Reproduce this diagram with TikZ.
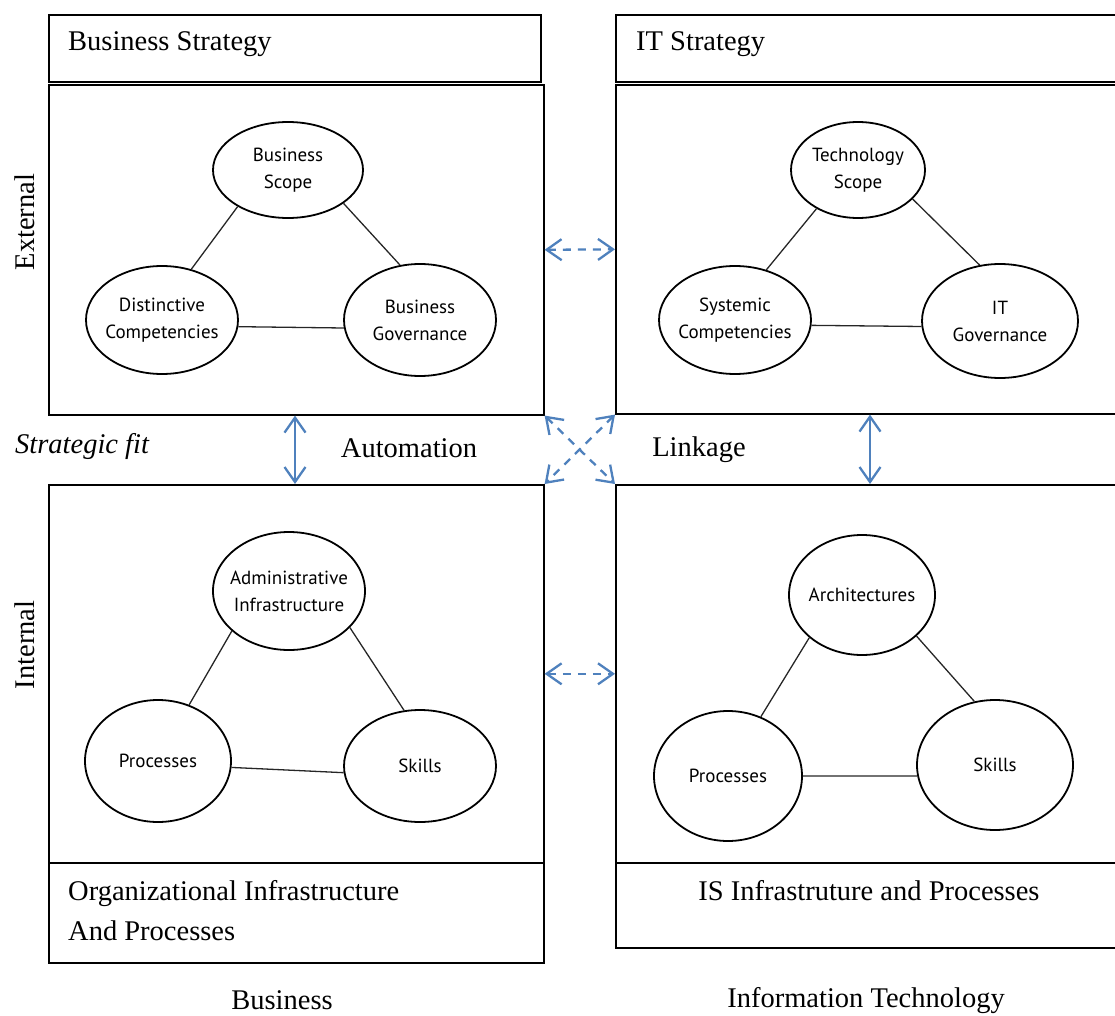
\documentclass[tikz,border=0pt]{standalone}
\usepackage{fontspec}
\setmainfont{Liberation Serif}
\newfontfamily\ovalfont{PT Sans}
\usepackage{xcolor}
\usetikzlibrary{shapes.geometric,arrows.meta,positioning}
\definecolor{linkblue}{RGB}{79,129,189}
\tikzset{
    panel/.style={draw, line width=1.6pt, anchor=north west, inner sep=0pt},
    oval/.style={draw, ellipse, line width=1.8pt, inner sep=-14pt, align=center, font=\ovalfont\fontsize{19}{27}\selectfont},
    tie/.style={line width=1.3pt, draw=black!85},
    boxtext/.style={inner sep=0pt, font=\fontsize{28.5}{40}\selectfont},
    fitarrow/.style={linkblue, line width=2.3pt, {Straight Barb[length=15pt,width=21pt]}-{Straight Barb[length=15pt,width=21pt]}},
    linkarrow/.style={fitarrow, dash pattern=on 8pt off 7pt}
}

\begin{document}
\begin{tikzpicture}[x=1pt, y=-1pt]
    \useasboundingbox (0,0) rectangle (1115,1016);
    % Title and frame boxes
    \node [panel, minimum width=492pt, minimum height=67pt] (bstitle) at (48,14) {};
    \node [panel, minimum width=510pt, minimum height=67pt] (ittitle) at (615,14) {};
    \node [panel, minimum width=495pt, minimum height=330pt] (bsbox) at (48,84) {};
    \node [panel, minimum width=510pt, minimum height=329pt] (itbox) at (615,84) {};
    \node [panel, minimum width=495pt, minimum height=378pt] (oibox) at (48,484) {};
    \node [panel, minimum width=510pt, minimum height=378pt] (isbox) at (615,484) {};
    \node [panel, minimum width=495pt, minimum height=100pt] (oilabel) at (48,862) {};
    \node [panel, minimum width=510pt, minimum height=85pt] (islabel) at (615,862) {};

    \node [boxtext, anchor=west] (bstext) at (68,44) {Business Strategy};
    \node [boxtext, anchor=west] (ittext) at (636,44) {IT Strategy};
    \node [boxtext, anchor=west, align=left] (oitext) at (68,911) {Organizational Infrastructure\\And Processes};
    \node [boxtext] (istext) at (869,891) {IS Infrastruture and Processes};

    % Business strategy
    \node [oval, minimum width=150pt, minimum height=96pt] (bscope) at (288,170) {Business\\Scope};
    \node [oval, minimum width=152pt, minimum height=108pt] (dcomp) at (162,320) {Distinctive\\Competencies};
    \node [oval, minimum width=152pt, minimum height=112pt] (bgov) at (420,320) {Business\\Governance};
    \draw [tie] (dcomp.60) -- (bscope.216);
    \draw [tie] (bscope.329) -- (bgov.110);
    \draw [tie] (dcomp.355) -- (bgov.186);

    % IT strategy
    \node [oval, minimum width=134pt, minimum height=96pt] (tscope) at (858,170) {Technology\\Scope};
    \node [oval, minimum width=152pt, minimum height=108pt] (scomp) at (735,320) {Systemic\\Competencies};
    \node [oval, minimum width=156pt, minimum height=114pt] (itgov) at (1000,321) {IT\\Governance};
    \draw [tie] (scomp.58) -- (tscope.223);
    \draw [tie] (tscope.332) -- (itgov.110);
    \draw [tie] (scomp.356) -- (itgov.184);

    % Organizational infrastructure
    \node [oval, minimum width=152pt, minimum height=118pt] (admin) at (289,591) {Administrative\\Infrastructure};
    \node [oval, minimum width=146pt, minimum height=122pt] (oproc) at (158,761) {Processes};
    \node [oval, minimum width=152pt, minimum height=112pt] (oskill) at (420,766) {Skills};
    \draw [tie] (oproc.61) -- (admin.215);
    \draw [tie] (admin.329) -- (oskill.106);
    \draw [tie] (oproc.355) -- (oskill.185);

    % IS infrastructure
    \node [oval, minimum width=146pt, minimum height=120pt] (arch) at (862,595) {Architectures};
    \node [oval, minimum width=148pt, minimum height=130pt] (iproc) at (728,776) {Processes};
    \node [oval, minimum width=156pt, minimum height=130pt] (iskill) at (995,765) {Skills};
    \draw [tie] (iproc.61) -- (arch.219);
    \draw [tie] (arch.323) -- (iskill.108);
    \draw [tie] (iproc.east) -- (iskill.188);

    % Alignment arrows
    \draw [fitarrow] ([xshift=247pt]bsbox.south west) -- ([xshift=247pt]oibox.north west);
    \draw [fitarrow] ([xshift=255pt]itbox.south west) -- ([xshift=255pt]isbox.north west);
    \draw [linkarrow] (bsbox.east) -- (itbox.west);
    \draw [linkarrow] (oibox.east) -- (isbox.west);
    \draw [linkarrow] (bsbox.south east) -- (isbox.north west);
    \draw [linkarrow] (itbox.south west) -- (oibox.north east);

    % Side and bottom labels
    \node [boxtext, anchor=west, font=\fontsize{28.5}{40}\selectfont\itshape] (fit) at (15,446) {Strategic fit};
    \node [boxtext] (auto) at (409,448) {Automation};
    \node [boxtext] (link) at (699,450) {Linkage};
    \node [boxtext, rotate=90] (ext) at (25,222) {External};
    \node [boxtext, rotate=90] (int) at (25,645) {Internal};
    \node [boxtext] (bus) at (282,1000) {Business};
    \node [boxtext] (infotech) at (866,1001) {Information Technology};
\end{tikzpicture}
\end{document}
